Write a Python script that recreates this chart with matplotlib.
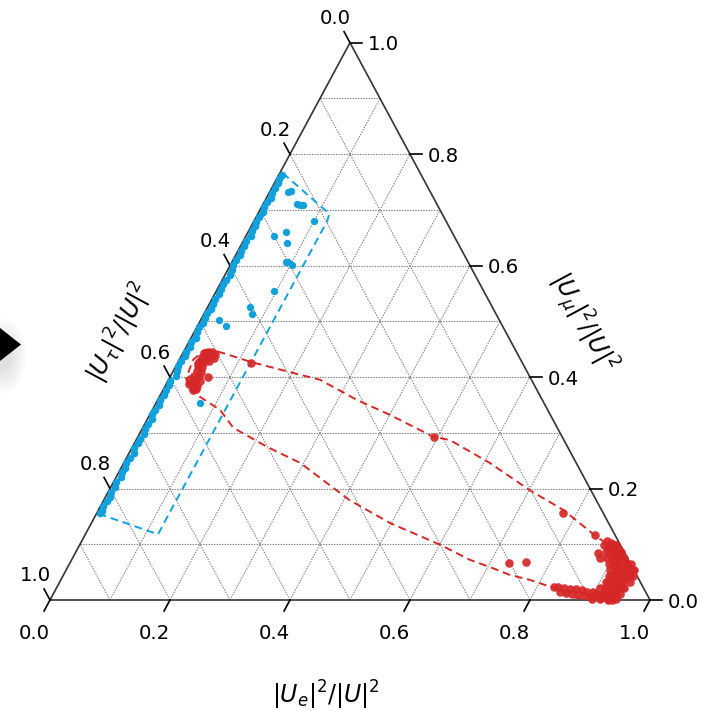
import numpy as np
import matplotlib
matplotlib.use("Agg")
import matplotlib.pyplot as plt
from matplotlib.patches import Polygon, Ellipse

# ternary data: e = |U_e|^2/|U|^2, mu = |U_mu|^2/|U|^2, tau = 1 - e - mu
# blue: dense band hugging the e = 0 side
band_mu = [0.763, 0.755, 0.748, 0.740, 0.731, 0.722, 0.714, 0.705, 0.697, 0.688,
           0.679, 0.671, 0.662, 0.653, 0.645, 0.636, 0.627, 0.619, 0.610, 0.601,
           0.593, 0.584, 0.575, 0.567, 0.558, 0.549, 0.541, 0.532, 0.523, 0.515,
           0.506, 0.497, 0.489, 0.480, 0.471, 0.463, 0.454, 0.445, 0.437, 0.428,
           0.419, 0.411, 0.402, 0.393, 0.385, 0.376, 0.367, 0.359, 0.350, 0.341,
           0.333, 0.324, 0.315, 0.307, 0.298, 0.289, 0.281, 0.272, 0.263, 0.255,
           0.246, 0.237, 0.229, 0.220, 0.211, 0.203, 0.194, 0.185, 0.177, 0.168,
           0.160, 0.156]
band_e = [0.005, 0.004, 0.006, 0.005, 0.004, 0.007, 0.005, 0.004, 0.007, 0.005,
          0.004, 0.006, 0.005, 0.008, 0.004, 0.006, 0.004, 0.007, 0.005, 0.004,
          0.006, 0.008, 0.005, 0.004, 0.006, 0.007, 0.004, 0.005, 0.007, 0.004,
          0.006, 0.006, 0.004, 0.005, 0.008, 0.004, 0.006, 0.004, 0.007, 0.005,
          0.004, 0.006, 0.009, 0.004, 0.006, 0.005, 0.007, 0.004, 0.006, 0.005,
          0.004, 0.008, 0.006, 0.004, 0.007, 0.005, 0.006, 0.004, 0.009, 0.006,
          0.004, 0.007, 0.005, 0.008, 0.004, 0.006, 0.005, 0.008, 0.006, 0.004,
          0.006, 0.005]
# blue: scattered points inside
blue_e = [0.031, 0.035, 0.057, 0.063, 0.068, 0.100, 0.047, 0.063, 0.075, 0.090,
          0.093, 0.103, 0.096, 0.071, 0.080, 0.031, 0.048, 0.073]
blue_mu = [0.732, 0.734, 0.710, 0.708, 0.708, 0.680, 0.654, 0.660, 0.640, 0.607,
           0.606, 0.602, 0.554, 0.525, 0.514, 0.502, 0.492, 0.354]
# blue contour
blue_cont_e = [0.005, 0.119, 0.122, 0.121, 0.009, 0.003, 0.005]
blue_cont_mu = [0.766, 0.693, 0.680, 0.118, 0.153, 0.450, 0.766]

# red: cluster near tau ~ 0.55
red_e = [0.035, 0.041, 0.048, 0.054, 0.035, 0.044, 0.049, 0.056, 0.036, 0.043,
         0.051, 0.037, 0.044, 0.040, 0.047, 0.039, 0.047, 0.035, 0.044, 0.054,
         0.038, 0.045, 0.053, 0.050, 0.063, 0.039, 0.034, 0.041, 0.054,
         # isolated points
         0.122, 0.494, 0.776, 0.850, 0.732, 0.760,
         # cluster near e ~ 0.9
         0.875, 0.884, 0.892, 0.882, 0.893, 0.903, 0.891, 0.903, 0.914, 0.900,
         0.912, 0.924, 0.909, 0.920, 0.935, 0.945, 0.917, 0.931, 0.943, 0.913,
         0.927, 0.940, 0.914, 0.927, 0.939, 0.914, 0.928, 0.938, 0.916, 0.929,
         0.940, 0.871, 0.879, 0.924, 0.898, 0.908, 0.888, 0.897, 0.878, 0.886,
         0.867, 0.875, 0.857, 0.865, 0.846, 0.854, 0.835, 0.843, 0.828, 0.915,
         0.930, 0.937,
         0.874, 0.884, 0.894, 0.884, 0.897, 0.909, 0.891, 0.904, 0.919, 0.899,
         0.913, 0.928, 0.936, 0.906, 0.920, 0.933, 0.946, 0.910, 0.923, 0.937,
         0.950, 0.911, 0.924, 0.937, 0.951, 0.906, 0.919, 0.933, 0.946, 0.905,
         0.918, 0.931, 0.945, 0.902, 0.916, 0.929, 0.942]
red_mu = [0.443, 0.445, 0.445, 0.441, 0.436, 0.436, 0.438, 0.434, 0.429, 0.427,
          0.429, 0.420, 0.418, 0.411, 0.409, 0.402, 0.402, 0.397, 0.395, 0.393,
          0.388, 0.386, 0.384, 0.377, 0.400, 0.440, 0.425, 0.391, 0.379,
          0.426, 0.292, 0.157, 0.117, 0.067, 0.068,
          0.106, 0.102, 0.099, 0.095, 0.092, 0.090, 0.084, 0.081, 0.079, 0.074,
          0.070, 0.068, 0.063, 0.059, 0.057, 0.054, 0.052, 0.048, 0.047, 0.043,
          0.040, 0.040, 0.032, 0.029, 0.029, 0.022, 0.018, 0.020, 0.011, 0.009,
          0.007, 0.084, 0.075, 0.005, 0.014, 0.007, 0.014, 0.005, 0.018, 0.009,
          0.020, 0.011, 0.020, 0.011, 0.022, 0.013, 0.023, 0.014, 0.023, 0.004,
          0.000, 0.000,
          0.099, 0.099, 0.099, 0.086, 0.086, 0.086, 0.075, 0.075, 0.075, 0.065,
          0.065, 0.065, 0.065, 0.054, 0.054, 0.054, 0.054, 0.043, 0.043, 0.043,
          0.043, 0.032, 0.032, 0.032, 0.032, 0.022, 0.022, 0.022, 0.022, 0.011,
          0.011, 0.011, 0.011, 0.002, 0.002, 0.002, 0.002]
# red contour
red_cont_e = [0.034, 0.053, 0.122, 0.195, 0.253, 0.332, 0.401, 0.492, 0.523, 0.610,
              0.701, 0.774, 0.855, 0.893, 0.932, 0.952, 0.950, 0.934, 0.900, 0.869,
              0.828, 0.782, 0.744, 0.704, 0.664, 0.601, 0.498, 0.410, 0.294, 0.224,
              0.151, 0.113, 0.061, 0.040, 0.028, 0.023, 0.034]
red_cont_mu = [0.449, 0.447, 0.427, 0.409, 0.395, 0.359, 0.332, 0.293, 0.287, 0.246,
               0.197, 0.162, 0.113, 0.093, 0.063, 0.040, 0.018, 0.002, 0.000, 0.005,
               0.022, 0.036, 0.045, 0.059, 0.072, 0.099, 0.138, 0.179, 0.246, 0.275,
               0.309, 0.341, 0.368, 0.380, 0.398, 0.431, 0.449]

ticks = [0.0, 0.2, 0.4, 0.6, 0.8, 1.0]
blue = "#11a0dc"
red = "#d62728"


def tern(e, mu):
    e = np.asarray(e)
    mu = np.asarray(mu)
    return e + mu / 2, mu


fig = plt.figure(figsize=(7.11, 7.11), dpi=100)
W = 711.0
ax = fig.add_axes([50 / W, 111 / W, 600 / W, 557.3 / W])
ax.set_xlim(0, 1)
ax.set_ylim(0, 1)
ax.axis("off")

# grid
for v in np.arange(0.1, 0.95, 0.1):
    gk = dict(color="#7a7a7a", lw=0.8, ls=(0, (1.2, 1.2)), zorder=1)
    ax.plot(*tern([0, 1 - v], [v, v]), **gk)
    ax.plot(*tern([v, v], [0, 1 - v]), **gk)
    ax.plot(*tern([1 - v, 0], [0, 1 - v]), **gk)

# frame
ax.plot(*tern([0, 1, 0, 0], [0, 0, 1, 0]), color="#333333", lw=1.2, zorder=2,
        clip_on=False)

# ticks
dl = (-0.00988, -0.01974)   # along left side, outward
dr = (-0.00988, 0.01974)    # along right side, outward
fs = 14.2
for t in ticks:
    x, y = tern(t, 0)
    ax.plot([x, x + dl[0]], [y, y + dl[1]], color="k", lw=1.2, clip_on=False)
    ax.annotate(f"{t:.1f}", (x, y), xytext=(-11.2, -23.8), textcoords="offset points",
                ha="center", va="center", fontsize=fs)
    x, y = tern(1 - t, t)
    ax.plot([x, x + 0.02], [y, y], color="k", lw=1.2, clip_on=False)
    ax.annotate(f"{t:.1f}", (x, y), xytext=(13, 0), textcoords="offset points",
                ha="left", va="center_baseline", fontsize=fs)
    x, y = tern(0, 1 - t)
    ax.plot([x, x + dr[0]], [y, y + dr[1]], color="k", lw=1.2, clip_on=False)
    ax.annotate(f"{t:.1f}", (x, y), xytext=(-10.8, 17.3), textcoords="offset points",
                ha="center", va="center", fontsize=fs)

# data
ax.plot(*tern(blue_cont_e, blue_cont_mu), color=blue, lw=1.4, ls=(0, (4, 2.5)), zorder=3)
ax.plot(*tern(red_cont_e, red_cont_mu), color=red, lw=1.4, ls=(0, (4, 2.5)), zorder=3)
ax.scatter(*tern(band_e, band_mu), s=30, color=blue, lw=0, zorder=4, clip_on=False)
ax.scatter(*tern(blue_e, blue_mu), s=28, color=blue, lw=0, zorder=4)
ax.scatter(*tern(red_e, red_mu), s=38, color=red, lw=0, alpha=0.92, zorder=4, clip_on=False)

# axis labels
fig.text(326 / W, 1 - 695 / W, r"$|U_e|^2/|U|^2$", fontsize=17, ha="center", va="center")
fig.text(120 / W, 1 - 333 / W, r"$|U_\tau|^2/|U|^2$", fontsize=17, ha="center",
         va="center", rotation=61.7, rotation_mode="anchor")
fig.text(582 / W, 1 - 322 / W, r"$|U_\mu|^2/|U|^2$", fontsize=17, ha="center",
         va="center", rotation=-61.7, rotation_mode="anchor")

# stray arrow at the left edge
for r in [34, 30, 26, 22, 18, 14]:
    fig.add_artist(Ellipse((2 / W, 1 - 356 / W), 1.4 * r / W, 2.2 * r / W,
                           transform=fig.transFigure, color="k", alpha=0.018, lw=0))
fig.add_artist(Polygon([[0, 1 - 328 / W], [21 / W, 1 - 344.5 / W], [0, 1 - 361 / W]],
                       closed=True, transform=fig.transFigure, color="k", lw=0))

fig.savefig("out.png", dpi=100)
